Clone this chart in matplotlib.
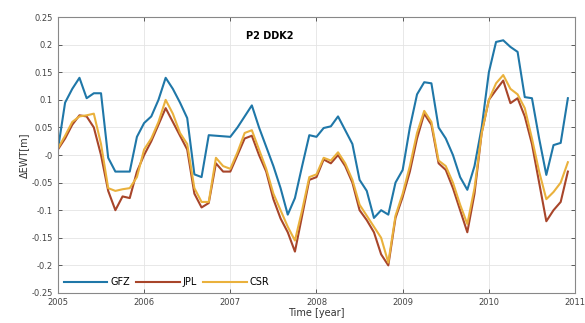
import matplotlib.pyplot as plt
import numpy as np
from matplotlib.ticker import FuncFormatter

# monthly samples, Jan 2005 .. Dec 2010
months = np.arange(72)
t = 2005 + months / 12.0

gfz = [0.010, 0.095, 0.120, 0.140, 0.103, 0.112, 0.112, -0.005, -0.030, -0.030,
       -0.030, 0.033, 0.058, 0.070, 0.100, 0.140, 0.120, 0.095, 0.067, -0.035,
       -0.040, 0.036, 0.035, 0.034, 0.033, 0.050, 0.070, 0.090, 0.050, 0.015,
       -0.020, -0.060, -0.108, -0.078, -0.020, 0.036, 0.033, 0.049, 0.052, 0.070,
       0.045, 0.020, -0.045, -0.065, -0.114, -0.100, -0.108, -0.050, -0.027, 0.050,
       0.110, 0.132, 0.130, 0.050, 0.030, 0.000, -0.040, -0.063, -0.020, 0.050,
       0.150, 0.205, 0.208, 0.196, 0.187, 0.105, 0.103, 0.030, -0.036, 0.018,
       0.022, 0.103]

jpl = [0.010, 0.030, 0.055, 0.072, 0.070, 0.050, 0.000, -0.065, -0.100, -0.075,
       -0.078, -0.030, 0.000, 0.025, 0.055, 0.085, 0.060, 0.035, 0.010, -0.070,
       -0.095, -0.087, -0.015, -0.030, -0.030, 0.000, 0.030, 0.035, 0.000, -0.030,
       -0.080, -0.115, -0.140, -0.175, -0.110, -0.045, -0.040, -0.008, -0.015, 0.000,
       -0.020, -0.050, -0.100, -0.118, -0.140, -0.180, -0.200, -0.114, -0.076, -0.030,
       0.030, 0.075, 0.055, -0.015, -0.027, -0.060, -0.100, -0.140, -0.070, 0.040,
       0.100, 0.118, 0.135, 0.094, 0.103, 0.070, 0.020, -0.050, -0.120, -0.100,
       -0.085, -0.030]

csr = [0.012, 0.035, 0.060, 0.070, 0.072, 0.075, 0.020, -0.060, -0.065, -0.062,
       -0.060, -0.040, 0.010, 0.030, 0.060, 0.100, 0.075, 0.040, 0.020, -0.060,
       -0.085, -0.085, -0.005, -0.020, -0.025, 0.005, 0.040, 0.045, 0.010, -0.025,
       -0.070, -0.100, -0.130, -0.155, -0.100, -0.040, -0.035, -0.005, -0.010, 0.005,
       -0.015, -0.045, -0.090, -0.110, -0.130, -0.150, -0.195, -0.110, -0.070, -0.020,
       0.040, 0.080, 0.060, -0.010, -0.020, -0.050, -0.090, -0.125, -0.060, 0.040,
       0.100, 0.130, 0.145, 0.120, 0.110, 0.085, 0.030, -0.030, -0.080, -0.067,
       -0.050, -0.013]

labels = ["GFZ", "JPL", "CSR"]
colors = ["#1f77a8", "#a8452a", "#eab13c"]

fig = plt.figure(figsize=(5.85, 3.23), dpi=100)
ax = fig.add_axes([0.099, 0.093, 0.884, 0.854])

for y, lab, c in zip([gfz, jpl, csr], labels, colors):
    ax.plot(t, y, color=c, linewidth=1.5, label=lab)

ax.set_xlim(2005, 2011)
ax.set_ylim(-0.25, 0.25)
ax.set_xticks(range(2005, 2012))
ax.set_yticks(np.arange(-0.25, 0.26, 0.05))
ax.yaxis.set_major_formatter(FuncFormatter(lambda v, p: "%g" % round(v, 2)))
ax.grid(True, color="#e4e4e4", linewidth=0.6)
ax.tick_params(direction="in", top=True, right=True, labelsize=6,
               colors="#444444", length=3, width=0.6)
for s in ax.spines.values():
    s.set_color("#888888")
    s.set_linewidth(0.8)

ax.set_xlabel("Time [year]", fontsize=7, color="#333333", labelpad=1)
ax.set_ylabel("\u0394EWT[m]", fontsize=7, color="#333333", labelpad=2)
ax.text(0.41, 0.93, "P2 DDK2", transform=ax.transAxes, fontsize=7,
        fontweight="bold", ha="center", va="center")

ax.legend(loc="lower left", ncol=3, frameon=False, fontsize=7,
          handlelength=4.5, columnspacing=0.6, handletextpad=0.3,
          borderaxespad=0.2)

fig.savefig("out.png", dpi=100)
